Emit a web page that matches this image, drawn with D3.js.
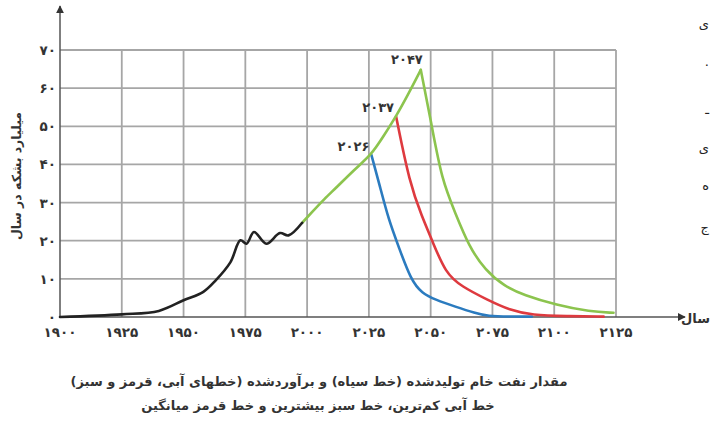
<!DOCTYPE html>
<html><head><meta charset="utf-8">
<script src="https://cdn.jsdelivr.net/npm/d3@7"></script>
<style>
html,body{margin:0;padding:0;background:#fff;}
svg{display:block;}
text{font-family:"DejaVu Sans",sans-serif;}
</style></head>
<body>
<svg id="c" width="711" height="422"></svg>
<script>
// ---- data ----
const xTicks = [1900,1925,1950,1975,2000,2025,2050,2075,2100,2125];
const xTickLabels = ["۱۹۰۰","۱۹۲۵","۱۹۵۰","۱۹۷۵","۲۰۰۰","۲۰۲۵","۲۰۵۰","۲۰۷۵","۲۱۰۰","۲۱۲۵"];
const yTicks = [0,10,20,30,40,50,60,70];
const yTickLabels = ["۰","۱۰","۲۰","۳۰","۴۰","۵۰","۶۰","۷۰"];
const historyYears = [1900,1925,1940,1950,1958,1963,1969,1973,1975.5,1978.5,1983.5,1989,1992.5,1998];
const historyValues = [0,0.7,1.6,4.4,6.6,9.6,14.4,20.1,19.2,22.3,19.2,22,21.4,24.7];
const riseYears = [1998,2002,2007,2012,2019,2026,2031,2036,2041,2046];
const riseValues = [24.7,27.5,31,34,38.6,42.5,47.5,52.6,58.5,64.8];
const blueYears = [2026,2029.5,2033,2037,2042,2046.5,2052,2060,2068,2073,2082,2091];
const blueValues = [42.5,34.2,25.5,18.5,9.7,6.2,4.5,2.7,1,0.2,0.1,0.1];
const redYears = [2036,2041.5,2046.5,2050.5,2056,2062.5,2073,2082,2091,2105,2120];
const redValues = [52.6,35,26.3,20.2,11.5,8,4.5,1.8,0.5,0.2,0.1];
const greenYears = [2046,2050.5,2054.5,2060,2065.5,2072,2080,2087.5,2101,2114.5,2124];
const greenValues = [64.8,50,36,27.2,18.5,12.3,8,5.8,3.1,1.4,1.1];
const peakLabels = ["۲۰۲۶","۲۰۳۷","۲۰۴۷"];
const peakYears = [2026,2036,2046];
const peakValues = [42.5,52.6,64.8];
const yAxisTitle = "میلیارد بشکه در سال";
const xAxisTitle = "سال";
const caption1 = "مقدار نفت خام تولیدشده (خط سیاه) و برآوردشده (خطهای آبی، قرمز و سبز)";
const caption2 = "خط آبی کم‌ترین، خط سبز بیشترین و خط قرمز میانگین";
const edgeChars = ["ی",".","ـ","ی","ه","ج"];

// ---- drawing ----
const svg = d3.select("#c");
const x = d3.scaleLinear().domain([1900,2125]).range([60,616]);
const y = d3.scaleLinear().domain([0,70]).range([317,50]);

const grid = svg.append("g").attr("stroke","#a6a6a6").attr("stroke-width",1.8).attr("fill","none");
yTicks.filter(d=>d>0).forEach(d=>{
  grid.append("line").attr("x1",x(1900)).attr("x2",x(2125)).attr("y1",y(d)).attr("y2",y(d));
});
xTicks.filter(d=>d>1900).forEach(d=>{
  grid.append("line").attr("x1",x(d)).attr("x2",x(d)).attr("y1",y(0)).attr("y2",y(70));
});

// axes
const defs = svg.append("defs");
defs.append("marker").attr("id","arr").attr("viewBox","0 0 10 10").attr("refX",9).attr("refY",5)
  .attr("markerWidth",8).attr("markerHeight",8).attr("orient","auto-start-reverse").attr("markerUnits","userSpaceOnUse")
  .append("path").attr("d","M0,0 L10,5 L0,10 z").attr("fill","#333");
svg.append("line").attr("x1",x(1900)).attr("x2",x(1900)).attr("y1",y(0)).attr("y2",6)
  .attr("stroke","#555").attr("stroke-width",1.5).attr("marker-end","url(#arr)");
svg.append("line").attr("x1",x(1900)).attr("x2",685).attr("y1",y(0)).attr("y2",y(0))
  .attr("stroke","#555").attr("stroke-width",1.5).attr("marker-end","url(#arr)");

// tick labels
svg.append("g").selectAll("text").data(yTicks).join("text")
  .attr("x",56).attr("y",d=>y(d)+5).attr("text-anchor","end")
  .attr("font-size",13.5).attr("font-weight","bold").attr("fill","#333")
  .text((d,i)=>yTickLabels[i]);
svg.append("g").selectAll("text").data(xTicks).join("text")
  .attr("x",d=>x(d)).attr("y",337).attr("text-anchor","middle")
  .attr("font-size",13.5).attr("font-weight","bold").attr("fill","#333")
  .text((d,i)=>xTickLabels[i]);

// axis titles
svg.append("text").attr("transform","translate(21,176) rotate(-90)").attr("text-anchor","middle")
  .attr("font-size",12.5).attr("font-weight","bold").attr("fill","#333").attr("direction","rtl").text(yAxisTitle);
svg.append("text").attr("x",710).attr("y",323).attr("text-anchor","start").attr("direction","rtl")
  .attr("font-size",13).attr("font-weight","bold").attr("fill","#333").text(xAxisTitle);

// lines
const mk = (xs,vs)=>xs.map((d,i)=>[d,vs[i]]);
const lineHist = d3.line().x(d=>x(d[0])).y(d=>y(d[1])).curve(d3.curveCatmullRom.alpha(0.5));
const lineRise = d3.line().x(d=>x(d[0])).y(d=>y(d[1])).curve(d3.curveBasis);
const lineSm = d3.line().x(d=>x(d[0])).y(d=>y(d[1])).curve(d3.curveBasis);
const draw = (data,gen,color)=>svg.append("path").datum(data).attr("d",gen)
  .attr("fill","none").attr("stroke",color).attr("stroke-width",2.6).attr("stroke-linejoin","round").attr("stroke-linecap","round");
draw(mk(blueYears,blueValues),lineSm,"#2b7bbf");
draw(mk(redYears,redValues),lineSm,"#de3a3f");
draw(mk(greenYears,greenValues),lineSm,"#8cc44e");
draw(mk(riseYears,riseValues),lineRise,"#8cc44e");
draw(mk(historyYears,historyValues),lineHist,"#222");

// peak labels
svg.append("g").selectAll("text").data(peakYears).join("text")
  .attr("x",(d,i)=>x(d)-2-(i==2?-4:0)).attr("y",(d,i)=>y(peakValues[i])-(i==2?6:4))
  .attr("text-anchor","end").attr("font-size",13).attr("font-weight","bold").attr("fill","#333")
  .text((d,i)=>peakLabels[i]);

// captions
svg.append("text").attr("x",319).attr("y",386).attr("text-anchor","middle").attr("direction","rtl")
  .attr("font-size",13).attr("font-weight","bold").attr("fill","#333").text(caption1);
svg.append("text").attr("x",318).attr("y",410).attr("text-anchor","middle").attr("direction","rtl")
  .attr("font-size",13).attr("font-weight","bold").attr("fill","#333").text(caption2);

// neighbouring text fragments at right edge
const edgeY = [28,66,114,152,190,232];
svg.append("g").selectAll("text").data(edgeChars).join("text")
  .attr("x",709).attr("y",(d,i)=>edgeY[i]).attr("text-anchor","end").attr("font-size",13).attr("fill","#222").text(d=>d);
</script>
</body></html>
